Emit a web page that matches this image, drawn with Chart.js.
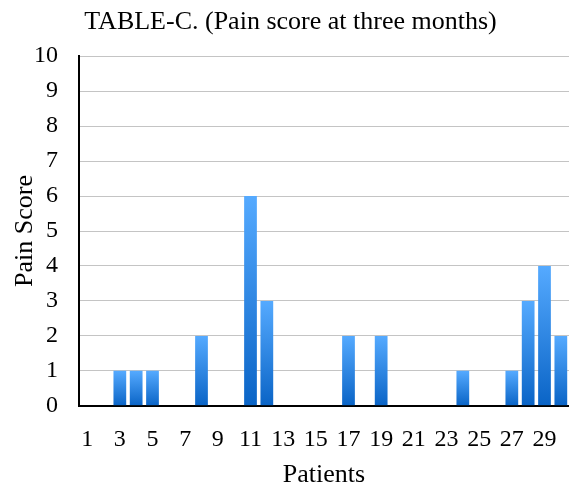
<!DOCTYPE html>
<html>
<head>
<meta charset="utf-8">
<script src="https://cdn.jsdelivr.net/npm/chart.js@4"></script>
<style>
  html, body { margin: 0; padding: 0; background: #fff; }
  #wrap { width: 569px; height: 487px; }
</style>
</head>
<body>
<div id="wrap"><canvas id="painChart" width="569" height="487"></canvas></div>
<script>
// patients 1..30
const patients = ['1','2','3','4','5','6','7','8','9','10','11','12','13','14','15',
                  '16','17','18','19','20','21','22','23','24','25','26','27','28','29','30'];
// pain score at three months
const painScores = [0,0,1,1,1,0,0,2,0,0,6,3,0,0,0,0,2,0,2,0,0,0,0,1,0,0,1,3,4,2];
const yTicks = [0,1,2,3,4,5,6,7,8,9,10];

const serif = "'Liberation Serif', 'Times New Roman', serif";

// vertical gradient per bar, light on top, dark at the base
const barFill = (ctx) => {
  const chart = ctx.chart;
  const { chartArea, scales } = chart;
  if (!chartArea || ctx.parsed === undefined) return '#3a8ae6';
  const top = scales.y.getPixelForValue(ctx.parsed.y);
  const bottom = scales.y.getPixelForValue(0);
  if (!isFinite(top) || Math.abs(bottom - top) < 1) return '#3a8ae6';
  const g = chart.ctx.createLinearGradient(0, top, 0, bottom);
  g.addColorStop(0, '#55aaff');
  g.addColorStop(1, '#0a64c6');
  return g;
};

new Chart(document.getElementById('painChart'), {
  type: 'bar',
  data: {
    labels: patients,
    datasets: [{
      data: painScores,
      backgroundColor: barFill,
      borderWidth: 0,
      barPercentage: 0.78,
      categoryPercentage: 1.0
    }]
  },
  options: {
    responsive: false,
    animation: false,
    layout: { padding: { left: 12, right: 0, top: 0, bottom: 0 } },
    plugins: {
      legend: { display: false },
      tooltip: { enabled: false },
      title: {
        display: true,
        text: 'TABLE-C. (Pain score at three months)',
        color: '#000',
        font: { family: serif, size: 26, weight: 'normal', lineHeight: 1.2 },
        padding: { top: 7, bottom: 18 }
      }
    },
    scales: {
      x: {
        // invisible tick marks used as spacing below the axis
        grid: { display: false, drawTicks: true, tickLength: 18, tickColor: 'rgba(0,0,0,0)' },
        border: { color: '#000', width: 2 },
        ticks: {
          color: '#000',
          font: { family: serif, size: 24 },
          autoSkip: false,
          maxRotation: 0,
          padding: 2,
          callback: (v, i) => (i % 2 === 0 ? patients[i] : '')
        },
        title: {
          display: true,
          text: 'Patients',
          color: '#000',
          font: { family: serif, size: 26, lineHeight: 0.9 },
          padding: { top: 7, bottom: 0 }
        }
      },
      y: {
        min: yTicks[0],
        max: yTicks[yTicks.length - 1],
        afterBuildTicks: (axis) => { axis.ticks = yTicks.map(v => ({ value: v })); },
        grid: { color: '#c4c4c4', lineWidth: 1, drawTicks: true, tickLength: 19, tickColor: 'rgba(0,0,0,0)' },
        border: { color: '#000', width: 2 },
        ticks: {
          color: '#000',
          font: { family: serif, size: 24 },
          padding: 2
        },
        title: {
          display: true,
          text: 'Pain Score',
          color: '#000',
          font: { family: serif, size: 26, lineHeight: 1 },
          padding: { top: 0, bottom: -6 }
        }
      }
    }
  }
});
</script>
</body>
</html>
